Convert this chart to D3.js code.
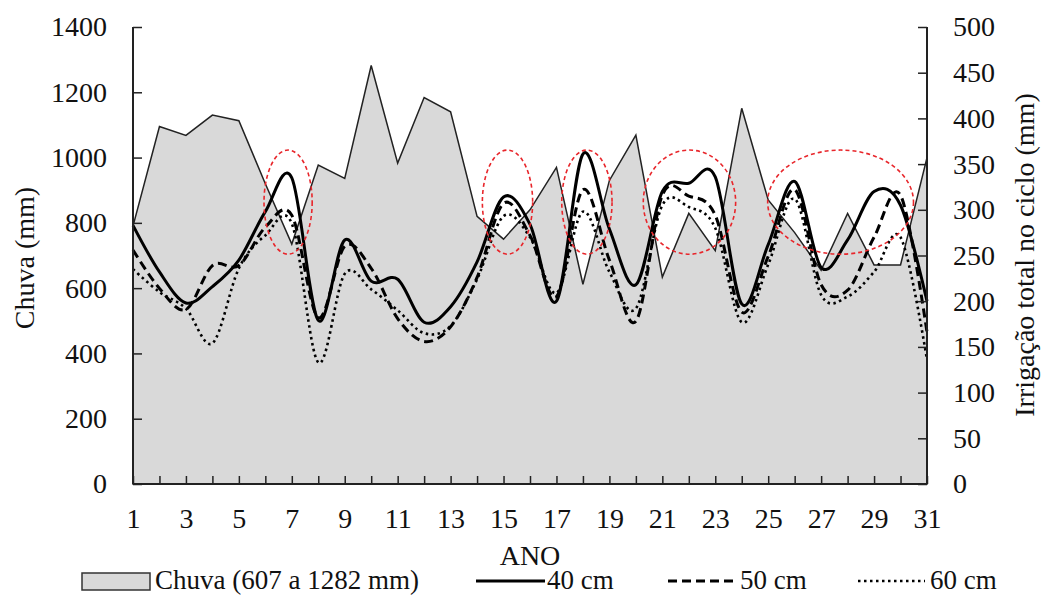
<!DOCTYPE html>
<html>
<head>
<meta charset="utf-8">
<script src="https://cdn.jsdelivr.net/npm/d3@7"></script>
<style>
  body { margin: 0; background: #fff; }
  text { font-family: "Liberation Serif", "Times New Roman", serif; fill: #111; }
</style>
</head>
<body>
<div id="grafico"></div>
<script>
// anos do ciclo
var anos = [1, 2, 3, 4, 5, 6, 7, 8, 9, 10, 11, 12, 13, 14, 15, 16, 17, 18, 19, 20, 21, 22, 23, 24, 25, 26, 27, 28, 29, 30, 31];
// chuva no ciclo (mm) - eixo esquerdo
var chuva = [790, 1095, 1068, 1130, 1113, 920, 735, 977, 936, 1282, 983, 1184, 1140, 820, 750, 840, 970, 612, 930, 1069, 634, 829, 715, 1151, 870, 770, 655, 829, 671, 671, 1000];
// irrigacao total no ciclo (mm) - eixo direito
var irr40 = [283, 232, 198, 216, 245, 298, 335, 179, 267, 222, 224, 177, 194, 243, 314, 284, 200, 361, 279, 218, 320, 329, 336, 197, 262, 331, 237, 267, 320, 305, 200];
var irr50 = [256, 214, 191, 239, 239, 281, 294, 182, 260, 236, 181, 156, 172, 226, 307, 272, 205, 322, 245, 178, 316, 315, 294, 188, 249, 322, 218, 212, 270, 316, 166];
var irr60 = [235, 210, 192, 154, 236, 272, 285, 133, 230, 213, 190, 165, 173, 224, 293, 270, 209, 298, 232, 192, 305, 303, 280, 177, 240, 312, 207, 205, 232, 270, 136];
// ticks
var ticksEsq = [0, 200, 400, 600, 800, 1000, 1200, 1400];
var ticksDir = [0, 50, 100, 150, 200, 250, 300, 350, 400, 450, 500];
var rotulosX = [1, 3, 5, 7, 9, 11, 13, 15, 17, 19, 21, 23, 25, 27, 29, 31];
// elipses vermelhas (inicio/fim em anos, faixa em mm de chuva)
var destaqueIni = [5.95, 14.2, 17.2, 20.28, 24.98];
var destaqueFim = [7.77, 16.1, 19.1, 23.77, 30.49];
var destaqueMm = [704, 1023];

var margin = {top: 27, right: 115, bottom: 112, left: 133},
    width = 1042 - margin.left - margin.right,
    height = 596 - margin.top - margin.bottom;

var svg = d3.select("#grafico")
  .append("svg")
    .attr("width", 1042)
    .attr("height", 596);
var g = svg.append("g")
    .attr("transform", "translate(" + margin.left + "," + margin.top + ")");

var x = d3.scaleLinear().domain([1, 31]).range([0, width]);
var yEsq = d3.scaleLinear().domain([0, 1400]).range([height, 0]);
var yDir = d3.scaleLinear().domain([0, 500]).range([height, 0]);

// area de chuva
var area = d3.area()
  .x(function(d, i) { return x(anos[i]); })
  .y0(height)
  .y1(function(d) { return yEsq(d); });
g.append("path")
  .datum(chuva)
  .attr("fill", "#d9d9d9")
  .attr("stroke", "#222")
  .attr("stroke-width", 1.5)
  .attr("d", area);

// linhas de irrigacao (suavizadas)
var linha = d3.line()
  .x(function(d, i) { return x(anos[i]); })
  .y(function(d) { return yDir(d); })
  .curve(d3.curveCatmullRom.alpha(0));

var series = [
  {dados: irr60, dash: "2.5,3.5", w: 2.6},
  {dados: irr50, dash: "9,5", w: 3},
  {dados: irr40, dash: null, w: 3}
];
series.forEach(function(s) {
  g.append("path")
    .datum(s.dados)
    .attr("fill", "none")
    .attr("stroke", "#000")
    .attr("stroke-width", s.w)
    .attr("stroke-dasharray", s.dash)
    .attr("d", linha);
});

// elipses de destaque
destaqueIni.forEach(function(a, i) {
  var b = destaqueFim[i];
  g.append("ellipse")
    .attr("cx", (x(a) + x(b)) / 2)
    .attr("cy", (yEsq(destaqueMm[0]) + yEsq(destaqueMm[1])) / 2)
    .attr("rx", (x(b) - x(a)) / 2)
    .attr("ry", (yEsq(destaqueMm[0]) - yEsq(destaqueMm[1])) / 2)
    .attr("fill", "none")
    .attr("stroke", "#e8262b")
    .attr("stroke-width", 1.6)
    .attr("stroke-dasharray", "4,3");
});

// eixos
var eixoX = g.append("g")
  .attr("transform", "translate(0," + height + ")")
  .call(d3.axisBottom(x).tickValues(anos).tickSize(-8).tickPadding(24)
    .tickFormat(function(d) { return rotulosX.indexOf(d) >= 0 ? d : ""; }));
var eixoE = g.append("g")
  .call(d3.axisLeft(yEsq).tickValues(ticksEsq).tickSize(-9).tickPadding(26)
    .tickFormat(d3.format("d")));
var eixoD = g.append("g")
  .attr("transform", "translate(" + width + ",0)")
  .call(d3.axisRight(yDir).tickValues(ticksDir).tickSize(-9).tickPadding(26)
    .tickFormat(d3.format("d")));

[eixoX, eixoE, eixoD].forEach(function(e) {
  e.select(".domain").attr("stroke", "#222").attr("stroke-width", 2);
  e.selectAll(".tick line").attr("stroke", "#222").attr("stroke-width", 1.5);
  e.selectAll("text").attr("font-size", 28).attr("fill", "#111")
    .style("font-family", "'Liberation Serif', serif");
});
eixoE.select(".domain").attr("d", "M0," + height + "V0");
eixoD.select(".domain").attr("d", "M0," + height + "V0");
eixoX.select(".domain").attr("d", "M0,0H" + width);

// titulos
svg.append("text")
  .attr("transform", "translate(34,258) rotate(-90)")
  .attr("text-anchor", "middle")
  .attr("font-size", 28)
  .text("Chuva (mm)");
svg.append("text")
  .attr("transform", "translate(1034,255) rotate(-90)")
  .attr("text-anchor", "middle")
  .attr("font-size", 28)
  .text("Irrigação total no ciclo (mm)");
svg.append("text")
  .attr("x", margin.left + width / 2)
  .attr("y", 565)
  .attr("text-anchor", "middle")
  .attr("font-size", 28)
  .text("ANO");

// legenda
var leg = svg.append("g");
leg.append("rect")
  .attr("x", 82).attr("y", 573).attr("width", 68).attr("height", 17)
  .attr("fill", "#d9d9d9").attr("stroke", "#333").attr("stroke-width", 1.5);
leg.append("text").attr("x", 155).attr("y", 589).attr("font-size", 27)
  .text("Chuva (607 a 1282 mm)");
var itensLeg = [
  {x0: 476, x1: 545, tx: 547, dash: null, w: 3, rot: "40 cm"},
  {x0: 668, x1: 737, tx: 740, dash: "9,5", w: 3, rot: "50 cm"},
  {x0: 858, x1: 925, tx: 930, dash: "2.5,3.5", w: 2.6, rot: "60 cm"}
];
itensLeg.forEach(function(it) {
  leg.append("line")
    .attr("x1", it.x0).attr("x2", it.x1).attr("y1", 581).attr("y2", 581)
    .attr("stroke", "#000").attr("stroke-width", it.w)
    .attr("stroke-dasharray", it.dash);
  leg.append("text").attr("x", it.tx).attr("y", 589).attr("font-size", 27)
    .text(it.rot);
});
</script>
</body>
</html>
